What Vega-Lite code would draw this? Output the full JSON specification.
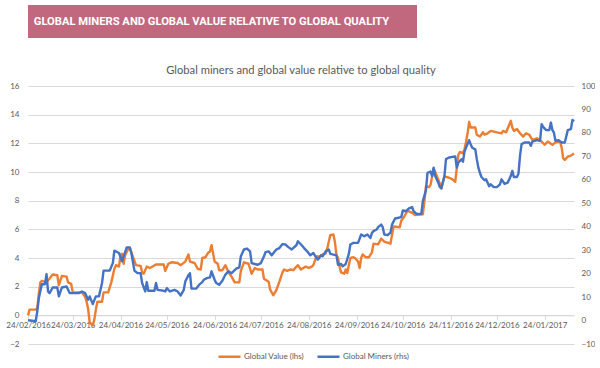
{
  "$schema": "https://vega.github.io/schema/vega-lite/v6.json",
  "padding": {"left": 5, "top": 5, "right": 0, "bottom": 0},
  "background": "white",
  "columns": 1,
  "align": "none",
  "spacing": 26,
  "config": {"view": {"stroke": null}, "font": "Lato"},
  "datasets": {
    "gv": [
      {"date":"2016-02-24","v":0.0},{"date":"2016-02-25","v":0.4},{"date":"2016-02-29","v":0.4},{"date":"2016-03-01","v":0.5},{"date":"2016-03-02","v":1.5},{"date":"2016-03-03","v":2.3},{"date":"2016-03-04","v":2.4},{"date":"2016-03-07","v":2.3},{"date":"2016-03-11","v":2.85},{"date":"2016-03-14","v":2.8},{"date":"2016-03-15","v":2.1},{"date":"2016-03-17","v":2.75},{"date":"2016-03-20","v":2.7},{"date":"2016-03-21","v":2.3},{"date":"2016-03-23","v":2.2},{"date":"2016-03-24","v":1.6},{"date":"2016-03-30","v":1.6},{"date":"2016-04-01","v":1.3},{"date":"2016-04-02","v":0.95},{"date":"2016-04-03","v":0.45},{"date":"2016-04-04","v":-0.5},{"date":"2016-04-06","v":-0.7},{"date":"2016-04-07","v":-0.3},{"date":"2016-04-08","v":0.4},{"date":"2016-04-09","v":0.95},{"date":"2016-04-12","v":0.95},{"date":"2016-04-13","v":1.6},{"date":"2016-04-16","v":1.6},{"date":"2016-04-18","v":2.3},{"date":"2016-04-20","v":3.25},{"date":"2016-04-21","v":3.5},{"date":"2016-04-23","v":3.4},{"date":"2016-04-24","v":4.2},{"date":"2016-04-25","v":4.3},{"date":"2016-04-26","v":3.6},{"date":"2016-04-27","v":4.2},{"date":"2016-04-29","v":4.65},{"date":"2016-04-30","v":4.7},{"date":"2016-05-02","v":4.1},{"date":"2016-05-04","v":3.5},{"date":"2016-05-07","v":3.45},{"date":"2016-05-08","v":3.0},{"date":"2016-05-09","v":2.9},{"date":"2016-05-11","v":3.4},{"date":"2016-05-13","v":3.3},{"date":"2016-05-17","v":3.55},{"date":"2016-05-22","v":3.55},{"date":"2016-05-23","v":3.1},{"date":"2016-05-25","v":3.6},{"date":"2016-05-27","v":3.7},{"date":"2016-05-31","v":3.65},{"date":"2016-06-02","v":3.5},{"date":"2016-06-05","v":3.75},{"date":"2016-06-07","v":4.25},{"date":"2016-06-08","v":3.75},{"date":"2016-06-11","v":3.65},{"date":"2016-06-13","v":3.25},{"date":"2016-06-15","v":3.2},{"date":"2016-06-16","v":4.0},{"date":"2016-06-18","v":4.05},{"date":"2016-06-20","v":4.4},{"date":"2016-06-21","v":4.45},{"date":"2016-06-22","v":4.9},{"date":"2016-06-24","v":3.75},{"date":"2016-06-26","v":3.6},{"date":"2016-06-27","v":3.15},{"date":"2016-06-29","v":3.15},{"date":"2016-07-01","v":3.5},{"date":"2016-07-03","v":3.0},{"date":"2016-07-05","v":2.7},{"date":"2016-07-07","v":2.3},{"date":"2016-07-10","v":2.3},{"date":"2016-07-11","v":3.1},{"date":"2016-07-13","v":3.7},{"date":"2016-07-16","v":3.6},{"date":"2016-07-18","v":2.9},{"date":"2016-07-20","v":3.3},{"date":"2016-07-22","v":3.2},{"date":"2016-07-25","v":3.2},{"date":"2016-07-26","v":2.55},{"date":"2016-07-29","v":2.35},{"date":"2016-07-30","v":1.8},{"date":"2016-08-01","v":1.4},{"date":"2016-08-03","v":1.75},{"date":"2016-08-05","v":2.35},{"date":"2016-08-07","v":3.0},{"date":"2016-08-08","v":3.2},{"date":"2016-08-10","v":3.1},{"date":"2016-08-12","v":3.2},{"date":"2016-08-14","v":3.15},{"date":"2016-08-17","v":3.5},{"date":"2016-08-19","v":3.2},{"date":"2016-08-22","v":3.4},{"date":"2016-08-24","v":3.3},{"date":"2016-08-26","v":3.4},{"date":"2016-08-27","v":3.5},{"date":"2016-08-29","v":4.1},{"date":"2016-08-31","v":4.1},{"date":"2016-09-02","v":4.25},{"date":"2016-09-04","v":4.3},{"date":"2016-09-05","v":4.65},{"date":"2016-09-07","v":5.6},{"date":"2016-09-09","v":5.65},{"date":"2016-09-10","v":5.1},{"date":"2016-09-11","v":4.2},{"date":"2016-09-12","v":4.0},{"date":"2016-09-13","v":3.4},{"date":"2016-09-14","v":3.0},{"date":"2016-09-16","v":2.9},{"date":"2016-09-17","v":3.2},{"date":"2016-09-18","v":2.95},{"date":"2016-09-20","v":4.0},{"date":"2016-09-22","v":4.05},{"date":"2016-09-23","v":4.0},{"date":"2016-09-25","v":3.75},{"date":"2016-09-26","v":3.3},{"date":"2016-09-27","v":4.0},{"date":"2016-09-28","v":4.25},{"date":"2016-09-30","v":4.05},{"date":"2016-10-02","v":4.05},{"date":"2016-10-04","v":4.4},{"date":"2016-10-05","v":5.0},{"date":"2016-10-08","v":4.95},{"date":"2016-10-10","v":5.35},{"date":"2016-10-12","v":5.15},{"date":"2016-10-16","v":5.0},{"date":"2016-10-17","v":5.6},{"date":"2016-10-18","v":6.2},{"date":"2016-10-22","v":6.15},{"date":"2016-10-23","v":6.6},{"date":"2016-10-25","v":6.9},{"date":"2016-10-27","v":7.3},{"date":"2016-10-30","v":7.15},{"date":"2016-11-01","v":7.0},{"date":"2016-11-06","v":7.05},{"date":"2016-11-07","v":7.95},{"date":"2016-11-08","v":9.0},{"date":"2016-11-10","v":8.95},{"date":"2016-11-11","v":9.1},{"date":"2016-11-13","v":10.25},{"date":"2016-11-14","v":10.0},{"date":"2016-11-17","v":9.2},{"date":"2016-11-18","v":8.85},{"date":"2016-11-20","v":9.7},{"date":"2016-11-23","v":9.6},{"date":"2016-11-25","v":9.5},{"date":"2016-11-27","v":9.32},{"date":"2016-11-29","v":11.2},{"date":"2016-11-30","v":11.4},{"date":"2016-12-02","v":11.3},{"date":"2016-12-03","v":11.6},{"date":"2016-12-04","v":12.1},{"date":"2016-12-05","v":12.7},{"date":"2016-12-06","v":13.5},{"date":"2016-12-07","v":13.1},{"date":"2016-12-10","v":13.1},{"date":"2016-12-11","v":12.6},{"date":"2016-12-13","v":12.47},{"date":"2016-12-15","v":12.77},{"date":"2016-12-16","v":12.6},{"date":"2016-12-18","v":12.7},{"date":"2016-12-20","v":12.87},{"date":"2016-12-24","v":12.77},{"date":"2016-12-27","v":12.7},{"date":"2016-12-28","v":12.87},{"date":"2016-12-30","v":12.77},{"date":"2017-01-01","v":13.3},{"date":"2017-01-02","v":13.57},{"date":"2017-01-03","v":13.1},{"date":"2017-01-04","v":12.87},{"date":"2017-01-06","v":13.0},{"date":"2017-01-08","v":12.7},{"date":"2017-01-10","v":12.47},{"date":"2017-01-12","v":12.7},{"date":"2017-01-14","v":12.6},{"date":"2017-01-16","v":12.24},{"date":"2017-01-19","v":12.35},{"date":"2017-01-22","v":12.12},{"date":"2017-01-24","v":11.9},{"date":"2017-01-26","v":12.12},{"date":"2017-01-29","v":11.9},{"date":"2017-01-31","v":12.07},{"date":"2017-02-03","v":12.12},{"date":"2017-02-04","v":11.7},{"date":"2017-02-05","v":10.95},{"date":"2017-02-06","v":10.85},{"date":"2017-02-08","v":11.07},{"date":"2017-02-10","v":11.14},{"date":"2017-02-12","v":11.3}
    ],
    "gm": [
      {"date":"2016-02-24","m":0.1},{"date":"2016-02-28","m":-0.2},{"date":"2016-02-29","m":-0.3},{"date":"2016-03-01","m":3.85},{"date":"2016-03-02","m":9.5},{"date":"2016-03-04","m":15.5},{"date":"2016-03-06","m":15.5},{"date":"2016-03-07","m":19.8},{"date":"2016-03-08","m":12.4},{"date":"2016-03-09","m":11.7},{"date":"2016-03-11","m":14.1},{"date":"2016-03-14","m":14.1},{"date":"2016-03-15","m":10.3},{"date":"2016-03-17","m":14.1},{"date":"2016-03-20","m":14.5},{"date":"2016-03-22","m":11.7},{"date":"2016-03-28","m":11.7},{"date":"2016-03-30","m":12.4},{"date":"2016-04-01","m":11.7},{"date":"2016-04-03","m":8.9},{"date":"2016-04-04","m":10.3},{"date":"2016-04-06","m":7.0},{"date":"2016-04-08","m":10.3},{"date":"2016-04-10","m":10.3},{"date":"2016-04-12","m":16.0},{"date":"2016-04-13","m":21.3},{"date":"2016-04-17","m":21.3},{"date":"2016-04-19","m":24.5},{"date":"2016-04-20","m":29.8},{"date":"2016-04-23","m":28.8},{"date":"2016-04-25","m":25.2},{"date":"2016-04-26","m":27.4},{"date":"2016-04-28","m":31.2},{"date":"2016-04-30","m":31.2},{"date":"2016-05-01","m":28.8},{"date":"2016-05-03","m":21.3},{"date":"2016-05-05","m":20.2},{"date":"2016-05-07","m":20.2},{"date":"2016-05-08","m":16.0},{"date":"2016-05-10","m":12.4},{"date":"2016-05-11","m":16.4},{"date":"2016-05-12","m":12.7},{"date":"2016-05-16","m":12.7},{"date":"2016-05-17","m":16.0},{"date":"2016-05-18","m":13.1},{"date":"2016-05-22","m":12.7},{"date":"2016-05-23","m":12.4},{"date":"2016-05-24","m":13.8},{"date":"2016-05-26","m":12.4},{"date":"2016-05-29","m":13.1},{"date":"2016-05-31","m":12.4},{"date":"2016-06-02","m":10.7},{"date":"2016-06-04","m":13.1},{"date":"2016-06-05","m":16.7},{"date":"2016-06-07","m":19.3},{"date":"2016-06-08","m":20.2},{"date":"2016-06-09","m":13.6},{"date":"2016-06-12","m":13.6},{"date":"2016-06-14","m":15.3},{"date":"2016-06-16","m":16.4},{"date":"2016-06-17","m":17.4},{"date":"2016-06-19","m":18.1},{"date":"2016-06-21","m":18.4},{"date":"2016-06-22","m":21.0},{"date":"2016-06-24","m":17.4},{"date":"2016-06-25","m":16.0},{"date":"2016-06-27","m":15.3},{"date":"2016-06-29","m":17.0},{"date":"2016-07-01","m":19.6},{"date":"2016-07-03","m":21.0},{"date":"2016-07-05","m":20.2},{"date":"2016-07-08","m":22.1},{"date":"2016-07-10","m":22.7},{"date":"2016-07-11","m":27.4},{"date":"2016-07-13","m":30.3},{"date":"2016-07-15","m":30.7},{"date":"2016-07-17","m":29.5},{"date":"2016-07-18","m":24.5},{"date":"2016-07-20","m":24.1},{"date":"2016-07-22","m":23.8},{"date":"2016-07-24","m":24.5},{"date":"2016-07-26","m":27.4},{"date":"2016-07-27","m":29.2},{"date":"2016-07-29","m":29.5},{"date":"2016-07-31","m":27.8},{"date":"2016-08-03","m":30.3},{"date":"2016-08-05","m":30.9},{"date":"2016-08-07","m":32.6},{"date":"2016-08-09","m":32.4},{"date":"2016-08-11","m":31.2},{"date":"2016-08-13","m":30.3},{"date":"2016-08-16","m":32.1},{"date":"2016-08-17","m":33.8},{"date":"2016-08-19","m":32.4},{"date":"2016-08-21","m":30.9},{"date":"2016-08-23","m":29.5},{"date":"2016-08-25","m":27.8},{"date":"2016-08-27","m":28.8},{"date":"2016-08-29","m":26.7},{"date":"2016-08-30","m":26.0},{"date":"2016-09-01","m":27.8},{"date":"2016-09-02","m":27.4},{"date":"2016-09-04","m":29.5},{"date":"2016-09-06","m":30.3},{"date":"2016-09-07","m":28.4},{"date":"2016-09-11","m":27.8},{"date":"2016-09-12","m":23.8},{"date":"2016-09-14","m":24.1},{"date":"2016-09-15","m":23.1},{"date":"2016-09-17","m":24.1},{"date":"2016-09-19","m":28.4},{"date":"2016-09-20","m":32.4},{"date":"2016-09-22","m":33.1},{"date":"2016-09-25","m":33.1},{"date":"2016-09-27","m":36.7},{"date":"2016-09-29","m":35.9},{"date":"2016-10-01","m":36.7},{"date":"2016-10-03","m":35.2},{"date":"2016-10-04","m":37.4},{"date":"2016-10-05","m":38.1},{"date":"2016-10-07","m":38.8},{"date":"2016-10-08","m":39.8},{"date":"2016-10-10","m":40.9},{"date":"2016-10-11","m":39.8},{"date":"2016-10-12","m":36.7},{"date":"2016-10-14","m":36.4},{"date":"2016-10-16","m":37.4},{"date":"2016-10-17","m":40.9},{"date":"2016-10-19","m":43.5},{"date":"2016-10-23","m":44.1},{"date":"2016-10-24","m":46.9},{"date":"2016-10-26","m":46.6},{"date":"2016-10-28","m":47.8},{"date":"2016-10-30","m":48.4},{"date":"2016-10-31","m":46.6},{"date":"2016-11-02","m":45.5},{"date":"2016-11-05","m":45.5},{"date":"2016-11-06","m":50.9},{"date":"2016-11-08","m":55.5},{"date":"2016-11-09","m":63.0},{"date":"2016-11-11","m":63.5},{"date":"2016-11-12","m":61.6},{"date":"2016-11-13","m":65.2},{"date":"2016-11-14","m":61.6},{"date":"2016-11-16","m":58.8},{"date":"2016-11-17","m":56.9},{"date":"2016-11-18","m":56.4},{"date":"2016-11-20","m":61.6},{"date":"2016-11-21","m":68.8},{"date":"2016-11-23","m":69.5},{"date":"2016-11-27","m":70.0},{"date":"2016-11-28","m":65.2},{"date":"2016-11-29","m":67.3},{"date":"2016-12-01","m":68.8},{"date":"2016-12-02","m":67.7},{"date":"2016-12-03","m":72.0},{"date":"2016-12-04","m":73.7},{"date":"2016-12-06","m":76.9},{"date":"2016-12-07","m":75.2},{"date":"2016-12-08","m":73.7},{"date":"2016-12-10","m":73.0},{"date":"2016-12-11","m":68.8},{"date":"2016-12-12","m":65.2},{"date":"2016-12-13","m":63.0},{"date":"2016-12-14","m":61.2},{"date":"2016-12-16","m":59.8},{"date":"2016-12-17","m":60.2},{"date":"2016-12-19","m":57.3},{"date":"2016-12-20","m":58.1},{"date":"2016-12-22","m":56.9},{"date":"2016-12-24","m":56.9},{"date":"2016-12-26","m":58.1},{"date":"2016-12-27","m":60.2},{"date":"2016-12-29","m":58.3},{"date":"2016-12-31","m":58.8},{"date":"2017-01-02","m":61.6},{"date":"2017-01-03","m":63.8},{"date":"2017-01-04","m":61.2},{"date":"2017-01-06","m":61.2},{"date":"2017-01-07","m":62.6},{"date":"2017-01-08","m":70.2},{"date":"2017-01-09","m":75.2},{"date":"2017-01-11","m":75.9},{"date":"2017-01-14","m":75.9},{"date":"2017-01-15","m":74.5},{"date":"2017-01-16","m":76.3},{"date":"2017-01-19","m":76.9},{"date":"2017-01-21","m":76.6},{"date":"2017-01-22","m":83.7},{"date":"2017-01-23","m":82.6},{"date":"2017-01-25","m":81.2},{"date":"2017-01-27","m":81.2},{"date":"2017-01-28","m":84.4},{"date":"2017-01-29","m":81.2},{"date":"2017-01-30","m":80.1},{"date":"2017-01-31","m":76.6},{"date":"2017-02-02","m":76.9},{"date":"2017-02-04","m":75.9},{"date":"2017-02-06","m":75.9},{"date":"2017-02-08","m":81.2},{"date":"2017-02-10","m":81.6},{"date":"2017-02-11","m":85.5},{"date":"2017-02-12","m":84.9}
    ],
    "banner": [{"label": "GLOBAL MINERS AND GLOBAL VALUE RELATIVE TO GLOBAL QUALITY"}]
  },
  "concat": [
    {
      "width": 389,
      "height": 33,
      "view": {"fill": "#c1687f", "stroke": null},
      "data": {"name": "banner"},
      "mark": {"type": "text", "font": "Roboto", "fontWeight": "bold", "fontSize": 11.2, "color": "white", "align": "center", "baseline": "middle", "dx": -11},
      "encoding": {"text": {"field": "label", "type": "nominal"}}
    },
    {
      "width": 546,
      "height": 258,
      "title": {"text": "Global miners and global value relative to global quality", "fontSize": 11.2, "fontWeight": "normal", "color": "#595959", "offset": 6, "anchor": "middle"},
      "layer": [
        {
          "data": {"name": "gv"},
          "mark": {"type": "line", "strokeWidth": 2.4, "strokeJoin": "round"},
          "encoding": {
            "x": {"field": "date", "type": "temporal", "title": null,
              "scale": {"type": "utc", "domain": [{"year": 2016, "month": 2, "date": 24, "utc": true}, {"year": 2017, "month": 2, "date": 12, "utc": true}]},
              "axis": {"orient": "bottom", "offset": -28.67, "format": "%d/%m/%Y", "grid": false, "domainColor": "#d9d9d9", "tickColor": "#d9d9d9", "tickSize": 4, "labelPadding": 2, "labelFontSize": 8, "labelColor": "#595959", "labelFlush": false, "labelOverlap": false,
                "values": [{"year":2016,"month":2,"date":24,"utc":true},{"year":2016,"month":3,"date":24,"utc":true},{"year":2016,"month":4,"date":24,"utc":true},{"year":2016,"month":5,"date":24,"utc":true},{"year":2016,"month":6,"date":24,"utc":true},{"year":2016,"month":7,"date":24,"utc":true},{"year":2016,"month":8,"date":24,"utc":true},{"year":2016,"month":9,"date":24,"utc":true},{"year":2016,"month":10,"date":24,"utc":true},{"year":2016,"month":11,"date":24,"utc":true},{"year":2016,"month":12,"date":24,"utc":true},{"year":2017,"month":1,"date":24,"utc":true}]}},
            "y": {"field": "v", "type": "quantitative", "title": null,
              "scale": {"domain": [-2, 16], "nice": false, "zero": false},
              "axis": {"orient": "left", "values": [-2, 0, 2, 4, 6, 8, 10, 12, 14, 16], "grid": true, "gridColor": "#d9d9d9", "gridWidth": 1, "ticks": false, "domain": false, "labelPadding": 9, "labelFontSize": 8, "labelColor": "#595959", "minExtent": 21, "maxExtent": 21}},
            "color": {"datum": "Global Value (lhs)", "type": "nominal",
              "scale": {"domain": ["Global Value (lhs)", "Global Miners (rhs)"], "range": ["#ED7D31", "#4472C4"]},
              "legend": {"orient": "none", "legendX": 189, "legendY": 339, "direction": "horizontal", "title": null, "symbolType": "stroke", "symbolStrokeWidth": 2.5, "symbolSize": 484, "labelFontSize": 8, "labelColor": "#595959", "labelOffset": 2, "columnPadding": 8, "padding": 0}}
          }
        },
        {
          "data": {"name": "gm"},
          "mark": {"type": "line", "strokeWidth": 2.4, "strokeJoin": "round"},
          "encoding": {
            "x": {"field": "date", "type": "temporal", "title": null,
              "scale": {"type": "utc", "domain": [{"year": 2016, "month": 2, "date": 24, "utc": true}, {"year": 2017, "month": 2, "date": 12, "utc": true}]}},
            "y": {"field": "m", "type": "quantitative", "title": null,
              "scale": {"domain": [-10, 100], "nice": false, "zero": false},
              "axis": {"orient": "right", "values": [-10, 0, 10, 20, 30, 40, 50, 60, 70, 80, 90, 100], "grid": false, "ticks": false, "domain": false, "labelPadding": 7, "labelFontSize": 8, "labelColor": "#595959"}},
            "color": {"datum": "Global Miners (rhs)", "type": "nominal"}
          }
        }
      ],
      "resolve": {"scale": {"y": "independent"}}
    }
  ]
}
